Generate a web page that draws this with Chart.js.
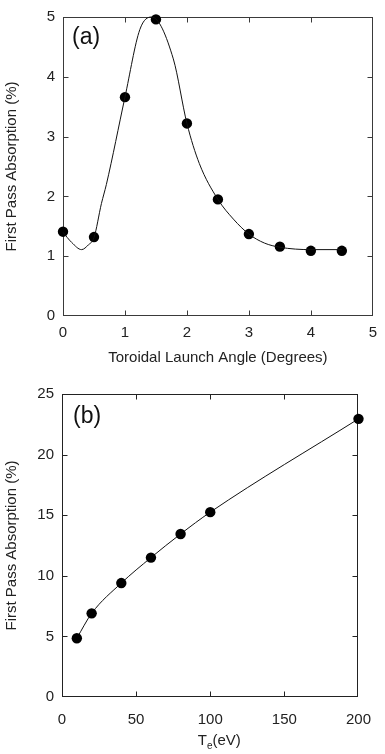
<!DOCTYPE html>
<html>
<head>
<meta charset="utf-8">
<script src="https://cdn.jsdelivr.net/npm/chart.js@4.4.1/dist/chart.umd.min.js"></script>
<style>
  html, body { margin: 0; padding: 0; background: #fff; }
  #wrap { position: relative; width: 385px; height: 754px; }
  canvas { position: absolute; left: 0; }
  #chartA { top: 0; }
  #chartB { top: 377px; }
</style>
</head>
<body>
<div id="wrap">
  <canvas id="chartA" width="385" height="377"></canvas>
  <canvas id="chartB" width="385" height="377"></canvas>
</div>
<script>
// Panel (a): first pass absorption vs toroidal launch angle
const launchAngle = [0, 0.5, 1, 1.5, 2, 2.5, 3, 3.5, 4, 4.5];
const absorptionA = [1.41, 1.32, 3.66, 4.96, 3.22, 1.95, 1.37, 1.16, 1.09, 1.09];

// Smooth fit curve drawn through panel (a)
const fitAngle = [0, 0.14, 0.3, 0.41, 0.5, 0.62, 0.7, 1.0, 1.24, 1.43, 1.78, 2.0, 2.2, 2.5, 2.75, 3.0, 3.25, 3.5, 4.0, 4.5];
const fitAbsA  = [1.40, 1.23, 1.11, 1.19, 1.31, 1.88, 2.20, 3.66, 4.79, 5.00, 4.30, 3.22, 2.55, 1.95, 1.62, 1.37, 1.22, 1.15, 1.11, 1.11];

// Panel (b): first pass absorption vs electron temperature
const electronTemp = [10, 20, 40, 60, 80, 100, 200];
const absorptionB  = [4.85, 6.9, 9.4, 11.5, 13.45, 15.25, 22.95];

// Axis tick labels
const angleTicks = [0, 1, 2, 3, 4, 5];
const absTicksA  = [0, 1, 2, 3, 4, 5];
const tempTicks  = [0, 50, 100, 150, 200];
const absTicksB  = [0, 5, 10, 15, 20, 25];

const FONT = "'Liberation Sans', Arial, Helvetica, sans-serif";
Chart.defaults.font.family = FONT;
Chart.defaults.color = '#222';

const toXY = (xs, ys) => xs.map((x, i) => ({ x, y: ys[i] }));

// Closed box round the plot area with short inward ticks on all four sides
const frameTicks = {
  id: 'frameTicks',
  beforeDatasetsDraw(chart, args, opts) {
    const { ctx, chartArea: a, scales: { x, y } } = chart;
    const L = Math.round(a.left) + 0.5, R = Math.round(a.right) - 0.5;
    const T = Math.round(a.top) + 0.5, B = Math.round(a.bottom) - 0.5;
    const len = opts.length || 5;
    ctx.save();
    ctx.lineWidth = 1;
    ctx.strokeStyle = opts.color || '#333';
    ctx.beginPath();
    x.ticks.forEach(t => {
      if (t.value <= x.min || t.value >= x.max) return;
      const px = Math.round(x.getPixelForValue(t.value)) + 0.5;
      ctx.moveTo(px, B); ctx.lineTo(px, B - len);
      ctx.moveTo(px, T); ctx.lineTo(px, T + len);
    });
    y.ticks.forEach(t => {
      if (t.value <= y.min || t.value >= y.max) return;
      const py = Math.round(y.getPixelForValue(t.value)) + 0.5;
      ctx.moveTo(L, py); ctx.lineTo(L + len, py);
      ctx.moveTo(R, py); ctx.lineTo(R - len, py);
    });
    ctx.stroke();
    ctx.strokeRect(L, T, R - L, B - T);
    ctx.restore();
  }
};

// Panel letter in the upper left corner of the plot
const panelTag = {
  id: 'panelTag',
  afterDraw(chart, args, opts) {
    if (!opts.text) return;
    const { ctx, chartArea: a } = chart;
    ctx.save();
    ctx.font = `${opts.size || 22}px ${FONT}`;
    ctx.fillStyle = '#111';
    ctx.textAlign = 'left';
    ctx.textBaseline = 'middle';
    ctx.fillText(opts.text, a.left + opts.dx, a.top + opts.dy);
    ctx.restore();
  }
};

// Axis title with a subscript: T_e(eV)
const subTitle = {
  id: 'subTitle',
  afterDraw(chart, args, opts) {
    if (!opts.main) return;
    const { ctx, chartArea: a } = chart;
    const big = `15px ${FONT}`, small = `10px ${FONT}`;
    ctx.save();
    ctx.fillStyle = '#222';
    ctx.textBaseline = 'alphabetic';
    ctx.font = big;  const w1 = ctx.measureText(opts.main).width;
    const w3 = ctx.measureText(opts.rest).width;
    ctx.font = small; const w2 = ctx.measureText(opts.sub).width;
    const total = w1 + w2 + w3;
    let x0 = (a.left + a.right) / 2 + (opts.shift || 0) - total / 2;
    const base = a.bottom + opts.dy;
    ctx.textAlign = 'left';
    ctx.font = big;   ctx.fillText(opts.main, x0, base); x0 += w1;
    ctx.font = small; ctx.fillText(opts.sub, x0, base + 4); x0 += w2;
    ctx.font = big;   ctx.fillText(opts.rest, x0, base);
    ctx.restore();
  }
};

function makeScales(cfg) {
  return {
    x: {
      type: 'linear', min: cfg.xTicks[0], max: cfg.xTicks[cfg.xTicks.length - 1],
      afterBuildTicks: s => { s.ticks = cfg.xTicks.map(v => ({ value: v })); },
      ticks: { padding: cfg.xPad, font: { size: 15 }, color: '#222' },
      grid: { display: false, drawTicks: false }, border: { display: false },
      title: { display: !!cfg.xTitle, text: cfg.xTitle || '', font: { size: 15 }, color: '#222',
               padding: { top: 0, bottom: cfg.xTitlePad } },
      afterFit: s => { s.height = cfg.xHeight; }
    },
    y: {
      type: 'linear', min: cfg.yTicks[0], max: cfg.yTicks[cfg.yTicks.length - 1],
      afterBuildTicks: s => { s.ticks = cfg.yTicks.map(v => ({ value: v })); },
      ticks: { padding: 8, font: { size: 15 }, color: '#222' },
      grid: { display: false, drawTicks: false }, border: { display: false },
      title: { display: true, text: 'First Pass Absorption (%)', font: { size: 15 }, color: '#222',
               padding: { top: 3, bottom: 0 } },
      afterFit: s => { s.width = cfg.yWidth; }
    }
  };
}

const commonPlugins = {
  legend: { display: false },
  tooltip: { enabled: false }
};

new Chart(document.getElementById('chartA'), {
  type: 'line',
  data: {
    datasets: [
      {
        data: toXY(fitAngle, fitAbsA),
        borderColor: '#111', borderWidth: 1, pointRadius: 0,
        cubicInterpolationMode: 'monotone', fill: false, clip: false
      },
      {
        data: toXY(launchAngle, absorptionA),
        showLine: false, pointRadius: 5.2, pointHoverRadius: 5.2,
        pointBackgroundColor: '#000', pointBorderColor: '#000', pointBorderWidth: 0, clip: false
      }
    ]
  },
  options: {
    responsive: false, animation: false, events: [],
    layout: { padding: { left: 0, right: 12, top: 7, bottom: 0 } },
    scales: makeScales({
      xTicks: angleTicks, yTicks: absTicksA, xTitle: 'Toroidal Launch Angle (Degrees)',
      xHeight: 61, yWidth: 63, xPad: 8, xTitlePad: 10
    }),
    plugins: Object.assign({}, commonPlugins, {
      frameTicks: { color: '#3a3a3a', length: 5 },
      panelTag: { text: '(a)', dx: 9, dy: 21, size: 23 }
    })
  },
  plugins: [frameTicks, panelTag]
});

new Chart(document.getElementById('chartB'), {
  type: 'line',
  data: {
    datasets: [
      {
        data: toXY(electronTemp, absorptionB),
        borderColor: '#111', borderWidth: 1,
        cubicInterpolationMode: 'monotone', fill: false,
        pointRadius: 5.2, pointHoverRadius: 5.2,
        pointBackgroundColor: '#000', pointBorderColor: '#000', pointBorderWidth: 0, clip: false
      }
    ]
  },
  options: {
    responsive: false, animation: false, events: [],
    layout: { padding: { left: 0, right: 13, top: 11, bottom: 0 } },
    scales: makeScales({
      xTicks: tempTicks, yTicks: absTicksB, xTitle: null,
      xHeight: 57, yWidth: 62, xPad: 14, xTitlePad: 0
    }),
    plugins: Object.assign({}, commonPlugins, {
      frameTicks: { color: '#222', length: 5 },
      panelTag: { text: '(b)', dx: 11, dy: 23, size: 23 },
      subTitle: { main: 'T', sub: 'e', rest: '(eV)', dy: 48, shift: 9 }
    })
  },
  plugins: [frameTicks, panelTag, subTitle]
});
</script>
</body>
</html>
